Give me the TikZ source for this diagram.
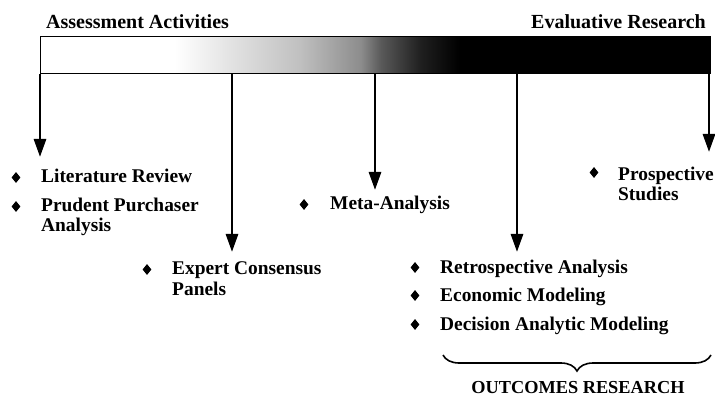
\documentclass[tikz,border=0pt]{standalone}
\usepackage{fontspec}
\setmainfont{Liberation Serif}
\usetikzlibrary{arrows.meta,shapes.geometric,decorations.pathreplacing}
% white on the left, fading through grey into solid black on the right
\pgfdeclarehorizontalshading{barfade}{100bp}{color(0bp)=(white); color(35bp)=(white); color(44.4bp)=(black!25); color(48.9bp)=(black!45); color(50.4bp)=(black!65); color(53.4bp)=(black!88); color(56.3bp)=(black); color(100bp)=(black)}
\begin{document}
\begin{tikzpicture}[x=1pt,y=-1pt,
  lbl/.style={font=\fontsize{19.4}{20.5}\selectfont\bfseries, inner sep=0pt, anchor=base west, align=left},
  ttl/.style={lbl, font=\fontsize{20}{22}\selectfont\bfseries},
  dot/.style={diamond, fill=black, inner sep=0pt, minimum width=9pt, minimum height=11pt},
  feed/.style={line width=2.8pt, -{Triangle[length=18pt,width=12pt]}}]
\useasboundingbox (0,0) rectangle (715,398);

% the spectrum bar
\node[draw=black, line width=1.2pt, shading=barfade, minimum width=670pt, minimum height=37pt,
      anchor=north west, inner sep=0pt] (bar) at (40,36) {};
\node[ttl] (assess) at (46,29) {Assessment Activities};
\node[ttl, anchor=base east] (evalres) at (706,29) {Evaluative Research};

% arrow end points
\coordinate (t1) at (40,157);
\coordinate (t2) at (232,252);
\coordinate (t3) at (375,190);
\coordinate (t4) at (517,252);
\coordinate (t5) at (709,152);

\foreach \t in {t1,t2,t3,t4,t5}
  \draw[feed] (bar.south -| \t) -- (\t);

% activity lists (a two-line node sits on the baseline of its last line)
\node[lbl] (lit) at (41,183) {Literature Review};
\node[lbl] (ppa) at (41,232) {Prudent Purchaser\\Analysis};
\node[lbl] (ecp) at (172,295) {Expert Consensus\\Panels};
\node[lbl] (meta) at (330,210) {Meta-Analysis};
\node[lbl] (pros) at (618,201) {Prospective\\Studies};
\node[lbl] (retro) at (440,273) {Retrospective Analysis};
\node[lbl] (econ) at (440,301) {Economic Modeling};
\node[lbl] (dam) at (440,330) {Decision Analytic Modeling};

\node[dot] (b1) at (16,177.5) {};
\node[dot] (b2) at (16,206.5) {};
\node[dot] (b3) at (147,269.5) {};
\node[dot] (b4) at (304,204.5) {};
\node[dot] (b5) at (594,172.5) {};
\node[dot] (b6) at (415,267.5) {};
\node[dot] (b7) at (415,295.5) {};
\node[dot] (b8) at (415,324.5) {};

% grouping brace
\coordinate (brL) at (443,355);
\coordinate (brR) at (711,355);
\draw[decorate, decoration={brace, mirror, amplitude=16pt}, line width=1.6pt] (brL) -- (brR);
\node[lbl, anchor=base, font=\fontsize{18.3}{20}\selectfont\bfseries] (outc) at (578,393) {OUTCOMES RESEARCH};
\end{tikzpicture}
\end{document}
